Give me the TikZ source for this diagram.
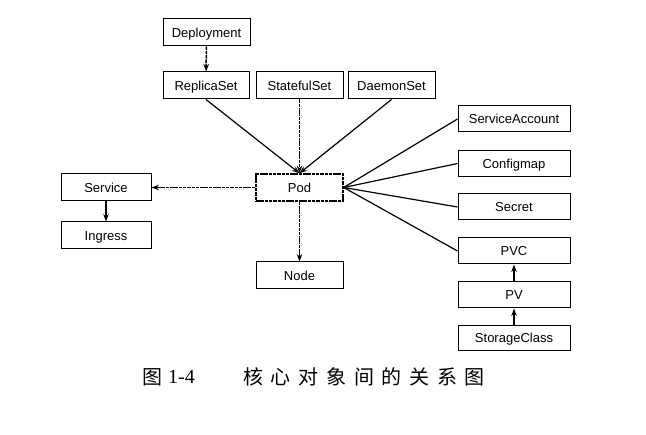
\documentclass[tikz,border=0pt]{standalone}
\usepackage{fontspec}
\setmainfont{Liberation Sans}
\newfontfamily\cjk{Noto Sans CJK SC}
\newfontfamily\capserif{Liberation Serif}
\usetikzlibrary{arrows.meta}
\newcommand\cgap{\hspace{7.7pt}}
\begin{document}
\begin{tikzpicture}[x=1pt,y=-1pt,
  obj/.style={draw, line width=1pt, rectangle, inner sep=0pt, minimum height=27pt, text height=9.3pt, text depth=0pt, font=\fontsize{13}{15}\selectfont},
  wide/.style={minimum width=87pt},
  rbox/.style={minimum width=112pt, minimum height=26pt},
  arr/.style={line width=1.2pt, -{Stealth[length=7.5pt,width=5.5pt]}},
  dsh/.style={line width=1.5pt, dash pattern=on 3.5pt off 0.8pt},
  ln/.style={line width=1.2pt}]
\useasboundingbox[fill=white] (0,0) rectangle (646,435);
% nodes
\node[obj,wide] (dep) at (206.5,32.5) {Deployment};
\node[obj,minimum width=86pt] (rs) at (206,85.5) {ReplicaSet};
\node[obj,wide] (ss) at (299.5,85.5) {StatefulSet};
\node[obj,wide] (ds) at (391.5,85.5) {DaemonSet};
\node[obj,wide,dsh] (pod) at (299.5,187.5) {Pod};
\node[obj,minimum width=90pt] (svc) at (106,187.5) {Service};
\node[obj,minimum width=90pt] (ing) at (106,235.5) {Ingress};
\node[obj,wide] (node) at (299.5,275.5) {Node};
\node[obj,rbox] (sa) at (514,119) {ServiceAccount};
\node[obj,rbox] (cm) at (514,163.5) {Configmap};
\node[obj,rbox] (sec) at (514,207) {Secret};
\node[obj,rbox] (pvc) at (514,251) {PVC};
\node[obj,rbox] (pv) at (514,295) {PV};
\node[obj,rbox,minimum height=25pt] (sc) at (514,338) {StorageClass};
% connectors
\draw[arr,dsh] (dep) -- (rs);
\draw[arr] (rs.south) -- (pod.north);
\draw[arr,dsh] (ss) -- (pod);
\draw[arr] (ds.south) -- (pod.north);
\draw[arr,dsh] (pod) -- (svc);
\draw[arr,dsh] (pod) -- (node);
\draw[arr] (svc) -- (ing);
\draw[ln] (pod.east) -- (sa.west);
\draw[ln] (pod.east) -- (cm.west);
\draw[ln] (pod.east) -- (sec.west);
\draw[ln] (pod.east) -- (pvc.west);
\draw[arr] (pv) -- (pvc);
\draw[arr] (sc) -- (pv);
% caption
\node[anchor=west, inner sep=0pt, font=\cjk\fontsize{20}{22}\selectfont] (cap1) at (142,377) {图};
\node[anchor=west, inner sep=0pt, font=\capserif\fontsize{20}{22}\selectfont] (cap2) at (168,377) {1-4};
\node[anchor=west, inner sep=0pt, font=\cjk\fontsize{20}{22}\selectfont] (cap3) at (243,377) {核\cgap 心\cgap 对\cgap 象\cgap 间\cgap 的\cgap 关\cgap 系\cgap 图};
\end{tikzpicture}
\end{document}
